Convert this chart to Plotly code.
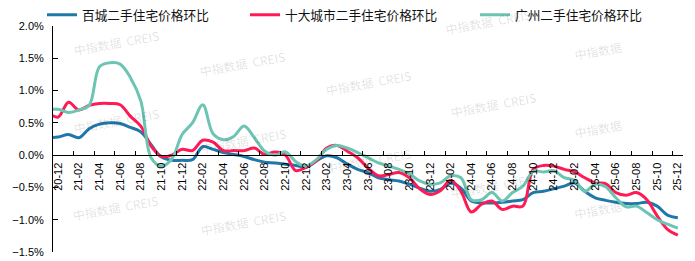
import plotly.graph_objects as go

months = ["20-11", "20-12",
          "21-01", "21-02", "21-03", "21-04", "21-05", "21-06", "21-07", "21-08", "21-09", "21-10", "21-11", "21-12",
          "22-01", "22-02", "22-03", "22-04", "22-05", "22-06", "22-07", "22-08", "22-09", "22-10", "22-11", "22-12",
          "23-01", "23-02", "23-03", "23-04", "23-05", "23-06", "23-07", "23-08", "23-09", "23-10", "23-11", "23-12",
          "24-01", "24-02", "24-03", "24-04", "24-05", "24-06", "24-07", "24-08", "24-09", "24-10", "24-11", "24-12",
          "25-01", "25-02", "25-03", "25-04", "25-05", "25-06", "25-07", "25-08", "25-09", "25-10", "25-11", "25-12"]

tick_labels = ["20-12", "21-02", "21-04", "21-06", "21-08", "21-10", "21-12",
               "22-02", "22-04", "22-06", "22-08", "22-10", "22-12",
               "23-02", "23-04", "23-06", "23-08", "23-10", "23-12",
               "24-02", "24-04", "24-06", "24-08", "24-10", "24-12",
               "25-02", "25-04", "25-06", "25-08", "25-10", "25-12"]

baicheng = [0.27, 0.28, 0.32, 0.27, 0.41, 0.48, 0.50, 0.49, 0.43, 0.36, 0.16, -0.03, -0.08,
            -0.08, -0.07, 0.13, 0.09, 0.04, 0.01, -0.02, -0.07, -0.11, -0.12, -0.14, -0.16, -0.19,
            -0.09, -0.01, -0.04, -0.14, -0.22, -0.27, -0.35, -0.38, -0.40, -0.45, -0.51, -0.56,
            -0.53, -0.43, -0.51, -0.71, -0.74, -0.74, -0.73, -0.71, -0.69, -0.58, -0.56, -0.52,
            -0.48, -0.43, -0.56, -0.66, -0.70, -0.73, -0.75, -0.75, -0.73, -0.79, -0.93, -0.97]

shida = [0.66, 0.59, 0.82, 0.70, 0.77, 0.80, 0.80, 0.78, 0.60, 0.45, 0.14, -0.02, 0.00,
         0.09, 0.07, 0.23, 0.20, 0.07, 0.07, 0.07, 0.11, 0.01, 0.05, 0.00, -0.24, -0.19,
         -0.09, 0.11, 0.15, 0.06, -0.04, -0.20, -0.32, -0.30, -0.27, -0.35, -0.52, -0.61,
         -0.55, -0.39, -0.56, -0.88, -0.76, -0.71, -0.84, -0.79, -0.79, -0.22, -0.16, -0.17,
         -0.22, -0.26, -0.35, -0.43, -0.44, -0.58, -0.62, -0.58, -0.69, -0.94, -1.15, -1.24]

guangzhou = [0.70, 0.71, 0.66, 0.70, 0.77, 1.37, 1.43, 1.41, 1.20, 0.84, -0.04, -0.17, -0.06,
             0.32, 0.50, 0.78, 0.33, 0.24, 0.29, 0.45, 0.27, 0.06, 0.00, 0.05, -0.10, -0.17,
             -0.07, 0.09, 0.15, 0.11, 0.04, -0.04, -0.12, -0.17, -0.22, -0.29, -0.40, -0.45,
             -0.43, -0.32, -0.35, -0.69, -0.69, -0.58, -0.71, -0.58, -0.48, -0.25, -0.26, -0.24,
             -0.35, -0.39, -0.56, -0.45, -0.49, -0.66, -0.80, -0.79, -0.89, -1.00, -1.07, -1.13]

names = ["百城二手住宅价格环比", "十大城市二手住宅价格环比", "广州二手住宅价格环比"]
colors = ["#1E78AA", "#FF1A55", "#6CC4B3"]
series = [baicheng, shida, guangzhou]

x = [i - 1 for i in range(len(months))]  # 20-12 -> 0

W, H = 695, 261
ML, MR, MT, MB = 53, 12, 26, 9
YMIN, YMAX = -1.5, 2.0

fig = go.Figure()
legend_ids = ["legend", "legend2", "legend3"]
for name, col, vals, lg in zip(names, colors, series, legend_ids):
    fig.add_trace(go.Scatter(
        x=x, y=vals, name=name, mode="lines",
        line=dict(color=col, width=3, shape="spline", smoothing=1.0),
        legend=lg, customdata=months, showlegend=True,
    ))

legend_font = dict(family="Noto Sans CJK SC", size=12.7, color="#111111")
legend_x = [42, 245, 475]
layout_legends = {}
for lg, lx in zip(legend_ids, legend_x):
    layout_legends[lg] = dict(
        xref="container", yref="container", x=lx / W, y=1 - 15 / H,
        xanchor="left", yanchor="middle", orientation="h",
        font=legend_font, bgcolor="rgba(0,0,0,0)", borderwidth=0,
        visible=True,
    )

# watermarks (pixel centres)
wm_full = [(116, 42), (116, 120), (115, 207), (242, 63), (243, 140), (243, 222),
           (368, 82), (368, 160), (488, 22), (493, 104), (493, 185)]
wm_short = [(598, 50), (598, 128), (598, 210)]
plot_w = W - ML - MR
plot_h = H - MT - MB
annotations = []
for (px, py), txt in [(p, "中指数据  CREIS") for p in wm_full] + [(p, "中指数据") for p in wm_short]:
    annotations.append(dict(
        x=(px - ML) / plot_w, y=(H - MB - py) / plot_h, xref="paper", yref="paper",
        text=txt, showarrow=False, textangle=-10,
        font=dict(family="Noto Sans CJK SC", size=12, color="rgba(0,0,0,0.13)"),
        xanchor="center", yanchor="middle",
    ))

fig.update_layout(
    width=W, height=H, autosize=False,
    margin=dict(l=ML, r=MR, t=MT, b=MB, pad=0, autoexpand=False),
    paper_bgcolor="white", plot_bgcolor="white",
    showlegend=True,
    annotations=annotations,
    xaxis=dict(
        range=[-0.5, 60.5], showgrid=False, zeroline=False,
        tickmode="array", tickvals=list(range(0, 61, 2)), ticktext=tick_labels,
        ticks="", tickangle=-90, ticklabelstandoff=2,
        tickfont=dict(family="Liberation Sans, Arial", size=11, color="black"),
        showline=True, linecolor="black", linewidth=1.3,
        anchor="free", position=(0 - YMIN) / (YMAX - YMIN),
        minor=dict(tickmode="array", tickvals=[v + 1.5 for v in range(0, 60, 2)],
                   ticks="inside", ticklen=4, tickwidth=1, tickcolor="black", showgrid=False),
    ),
    yaxis=dict(
        range=[YMIN, YMAX], dtick=0.5, tick0=0, tickformat=".1f", ticksuffix="%",
        showgrid=False, zeroline=False,
        ticks="inside", ticklen=5, tickwidth=1, tickcolor="black",
        showline=True, linecolor="black", linewidth=1,
        tickfont=dict(family="Liberation Sans, Arial", size=11, color="black"),
        ticklabelstandoff=6,
    ),
    **layout_legends,
)

fig.write_html("out.html")
